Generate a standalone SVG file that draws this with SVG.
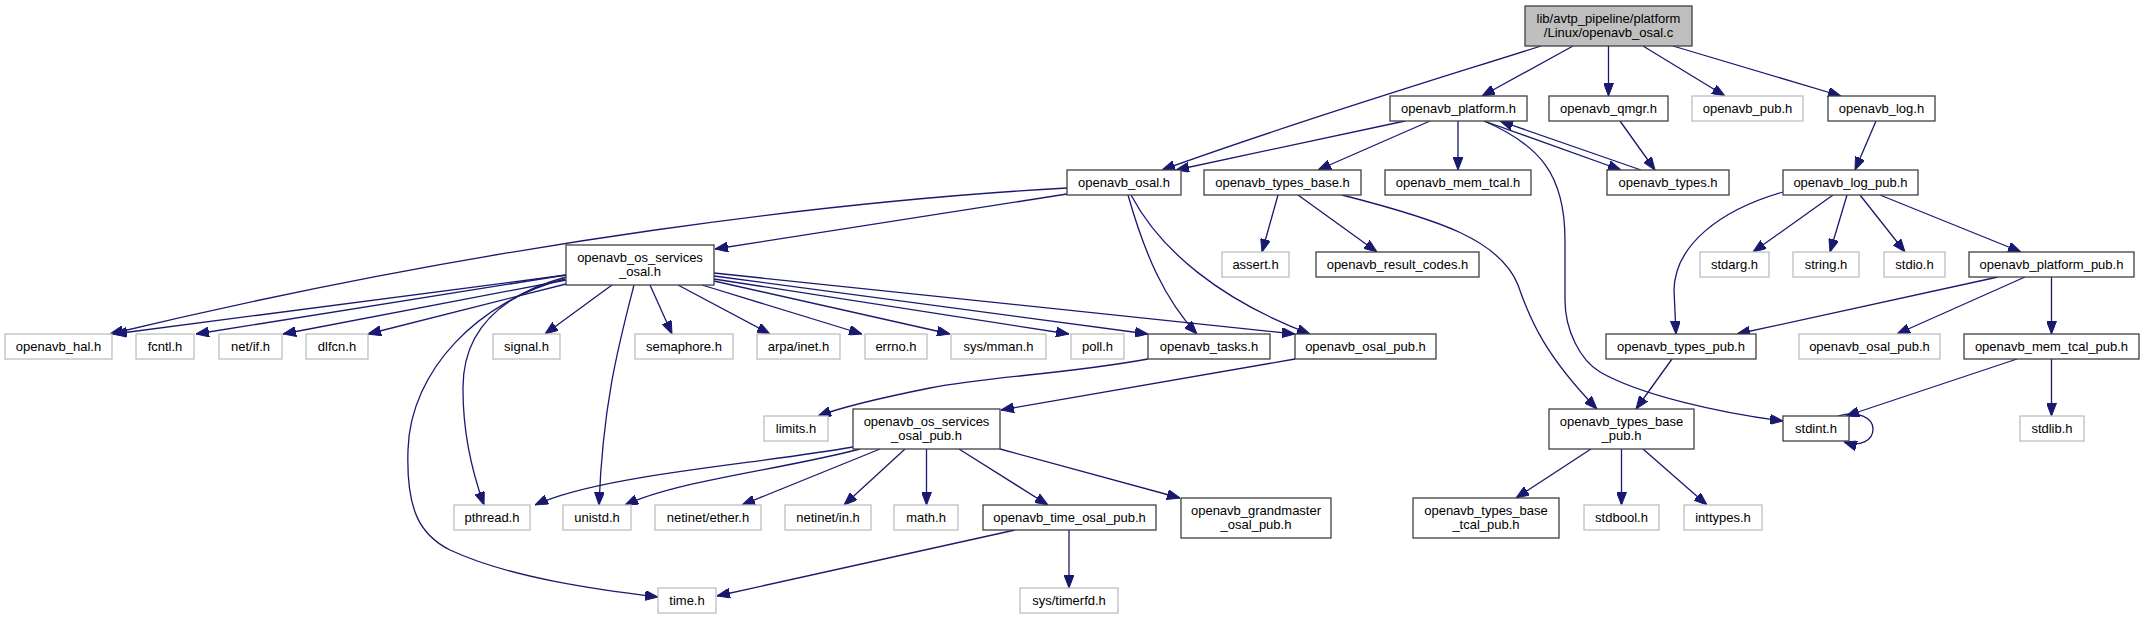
<svg xmlns="http://www.w3.org/2000/svg" width="2145" height="619" viewBox="0 0 2145 619">
<style>
.n rect{fill:#fff;stroke:#404040;stroke-width:1.3}
.g rect{fill:#fff;stroke:#bfbfbf;stroke-width:1.3}
.r rect{fill:#bfbfbf;stroke:#404040;stroke-width:1.3}
text{font-family:"Liberation Sans",Arial,Helvetica,sans-serif;font-size:13px;text-anchor:middle;fill:#000}
#edges path{fill:none;stroke:#191970;stroke-width:1.3;marker-end:url(#a)}
</style>
<defs>
<marker id="a" markerUnits="userSpaceOnUse" markerWidth="13" markerHeight="10" refX="13" refY="5" orient="auto">
<path d="M0,0 L13,5 L0,10 z" fill="#191970" stroke="#191970" stroke-width="1"/>
</marker>
</defs>
<rect width="2145" height="619" fill="#fff"/>
<g id="edges">
<path d="M1541,46 C1450,75 1300,120 1162,170"/>
<path d="M1573,46 L1482,96"/>
<path d="M1608.5,46 L1608.5,96"/>
<path d="M1643,46 L1725,96"/>
<path d="M1673,46 L1841,96"/>
<path d="M1405,121 L1176,170"/>
<path d="M1430,121 L1318,170"/>
<path d="M1458,121 L1458,170"/>
<path d="M1484,121 L1621,170"/>
<path d="M1641,170 L1500,121"/>
<path d="M1484,121 C1540,145 1565,175 1565,240 L1565,300 C1565,330 1580,360 1600,372 C1640,395 1720,413 1783,421"/>
<path d="M1620,121 L1655,170"/>
<path d="M1876,121 L1855,170"/>
<path d="M1067,188 C850,200 500,240 110,334"/>
<path d="M1067,194 L715,249"/>
<path d="M1128,195 C1145,255 1165,300 1197,334"/>
<path d="M1131,195 C1160,250 1220,300 1310,334"/>
<path d="M1278,195 L1262,252"/>
<path d="M1298,195 L1377,252"/>
<path d="M1342,195 C1440,220 1500,240 1518,285 C1530,320 1545,355 1597,409"/>
<path d="M1783,192 C1720,210 1675,245 1674,290 L1676,334"/>
<path d="M1833,195 L1753,252"/>
<path d="M1847,195 L1830,252"/>
<path d="M1860,195 L1905,252"/>
<path d="M1880,195 L2021,252"/>
<path d="M1998,277 L1737,334"/>
<path d="M2025,277 L1897,334"/>
<path d="M2051.5,277 L2051.5,334"/>
<path d="M2017,359 L1846,416"/>
<path d="M1838,416 C1858,410 1873,418 1873,429 C1873,441 1860,447 1844,442"/>
<path d="M2051.5,359 L2051.5,416"/>
<path d="M1672,359 L1636,409"/>
<path d="M1591,449 L1516,498"/>
<path d="M1621.5,449 L1621.5,505"/>
<path d="M1643,449 L1707,505"/>
<path d="M566,275 L114,334"/>
<path d="M566,275 L196,334"/>
<path d="M566,280 L283,334"/>
<path d="M566,284 L368,334"/>
<path d="M612,285 L545,334"/>
<path d="M650,285 L672,334"/>
<path d="M678,285 L770,334"/>
<path d="M702,285 L862,334"/>
<path d="M714,281 L950,334"/>
<path d="M714,279 L1069,334"/>
<path d="M714,276 L1148,334"/>
<path d="M714,273 L1295,334"/>
<path d="M566,277 C500,295 462,330 463,390 C463,440 475,480 484,505"/>
<path d="M565,279 C480,300 410,370 408,450 C406,510 420,535 450,550 C510,578 600,590 658,597"/>
<path d="M634,285 C620,340 603,400 599,505"/>
<path d="M1148,359 C1060,375 990,376 930,388 C880,398 845,406 818,416"/>
<path d="M1295,359 L1001,410"/>
<path d="M853,447 C750,465 600,475 535,505"/>
<path d="M860,449 C780,470 680,480 625,505"/>
<path d="M880,449 L742,505"/>
<path d="M905,449 L844,505"/>
<path d="M926.5,449 L926.5,505"/>
<path d="M959,449 L1048,505"/>
<path d="M1000,449 L1180,498"/>
<path d="M1015,530 L717,596"/>
<path d="M1069,530 L1069,588"/>
</g>
<g id="root" class="r"><rect x="1525" y="6" width="167" height="40"/><text x="1608.5" y="22.5">lib/avtp_pipeline/platform</text><text x="1608.5" y="37">/Linux/openavb_osal.c</text></g>
<g id="platform" class="n"><rect x="1390" y="96" width="137" height="25"/><text x="1458.5" y="113">openavb_platform.h</text></g>
<g id="qmgr" class="n"><rect x="1549" y="96" width="119" height="25"/><text x="1608.5" y="113">openavb_qmgr.h</text></g>
<g id="pub" class="g"><rect x="1692" y="96" width="111" height="25"/><text x="1747.5" y="113">openavb_pub.h</text></g>
<g id="log" class="n"><rect x="1828" y="96" width="107" height="25"/><text x="1881.5" y="113">openavb_log.h</text></g>
<g id="osal" class="n"><rect x="1067" y="170" width="114" height="25"/><text x="1124" y="187">openavb_osal.h</text></g>
<g id="types_base" class="n"><rect x="1204" y="170" width="157" height="25"/><text x="1282.5" y="187">openavb_types_base.h</text></g>
<g id="mem_tcal" class="n"><rect x="1385" y="170" width="146" height="25"/><text x="1458" y="187">openavb_mem_tcal.h</text></g>
<g id="types" class="n"><rect x="1607" y="170" width="122" height="25"/><text x="1668" y="187">openavb_types.h</text></g>
<g id="log_pub" class="n"><rect x="1783" y="170" width="135" height="25"/><text x="1850.5" y="187">openavb_log_pub.h</text></g>
<g id="os_services_osal" class="n"><rect x="566" y="245" width="148" height="40"/><text x="640" y="261.5">openavb_os_services</text><text x="640" y="275.5">_osal.h</text></g>
<g id="assert" class="g"><rect x="1222" y="252" width="67" height="25"/><text x="1255.5" y="269">assert.h</text></g>
<g id="result_codes" class="n"><rect x="1316" y="252" width="163" height="25"/><text x="1397.5" y="269">openavb_result_codes.h</text></g>
<g id="stdarg" class="g"><rect x="1700" y="252" width="69" height="25"/><text x="1734.5" y="269">stdarg.h</text></g>
<g id="string" class="g"><rect x="1793" y="252" width="66" height="25"/><text x="1826" y="269">string.h</text></g>
<g id="stdio" class="g"><rect x="1884" y="252" width="61" height="25"/><text x="1914.5" y="269">stdio.h</text></g>
<g id="platform_pub" class="n"><rect x="1969" y="252" width="165" height="25"/><text x="2051.5" y="269">openavb_platform_pub.h</text></g>
<g id="hal" class="g"><rect x="5" y="334" width="107" height="25"/><text x="58.5" y="351">openavb_hal.h</text></g>
<g id="fcntl" class="g"><rect x="136" y="334" width="58" height="25"/><text x="165" y="351">fcntl.h</text></g>
<g id="netif" class="g"><rect x="219" y="334" width="63" height="25"/><text x="250.5" y="351">net/if.h</text></g>
<g id="dlfcn" class="g"><rect x="306" y="334" width="62" height="25"/><text x="337" y="351">dlfcn.h</text></g>
<g id="signal" class="g"><rect x="493" y="334" width="67" height="25"/><text x="526.5" y="351">signal.h</text></g>
<g id="semaphore" class="g"><rect x="635" y="334" width="98" height="25"/><text x="684" y="351">semaphore.h</text></g>
<g id="arpa" class="g"><rect x="757" y="334" width="83" height="25"/><text x="798.5" y="351">arpa/inet.h</text></g>
<g id="errno" class="g"><rect x="865" y="334" width="62" height="25"/><text x="896" y="351">errno.h</text></g>
<g id="mman" class="g"><rect x="951" y="334" width="95" height="25"/><text x="998.5" y="351">sys/mman.h</text></g>
<g id="poll" class="g"><rect x="1071" y="334" width="53" height="25"/><text x="1097.5" y="351">poll.h</text></g>
<g id="tasks" class="n"><rect x="1148" y="334" width="122" height="25"/><text x="1209" y="351">openavb_tasks.h</text></g>
<g id="osal_pub" class="n"><rect x="1295" y="334" width="141" height="25"/><text x="1365.5" y="351">openavb_osal_pub.h</text></g>
<g id="types_pub" class="n"><rect x="1606" y="334" width="150" height="25"/><text x="1681" y="351">openavb_types_pub.h</text></g>
<g id="osal_pub_ext" class="g"><rect x="1799" y="334" width="141" height="25"/><text x="1869.5" y="351">openavb_osal_pub.h</text></g>
<g id="mem_tcal_pub" class="n"><rect x="1964" y="334" width="175" height="25"/><text x="2051.5" y="351">openavb_mem_tcal_pub.h</text></g>
<g id="limits" class="g"><rect x="764" y="416" width="64" height="25"/><text x="796" y="433">limits.h</text></g>
<g id="os_services_osal_pub" class="n"><rect x="853" y="409" width="147" height="40"/><text x="926.5" y="425.5">openavb_os_services</text><text x="926.5" y="439.5">_osal_pub.h</text></g>
<g id="types_base_pub" class="n"><rect x="1549" y="409" width="145" height="40"/><text x="1621.5" y="425.5">openavb_types_base</text><text x="1621.5" y="439.5">_pub.h</text></g>
<g id="stdint" class="n"><rect x="1783" y="416" width="66" height="25"/><text x="1816" y="433">stdint.h</text></g>
<g id="stdlib" class="g"><rect x="2020" y="416" width="64" height="25"/><text x="2052" y="433">stdlib.h</text></g>
<g id="pthread" class="g"><rect x="454" y="505" width="76" height="25"/><text x="492" y="522">pthread.h</text></g>
<g id="unistd" class="g"><rect x="563" y="505" width="68" height="25"/><text x="597" y="522">unistd.h</text></g>
<g id="ether" class="g"><rect x="655" y="505" width="106" height="25"/><text x="708" y="522">netinet/ether.h</text></g>
<g id="netin" class="g"><rect x="785" y="505" width="86" height="25"/><text x="828" y="522">netinet/in.h</text></g>
<g id="math" class="g"><rect x="894" y="505" width="64" height="25"/><text x="926" y="522">math.h</text></g>
<g id="time_osal_pub" class="n"><rect x="983" y="505" width="173" height="25"/><text x="1069.5" y="522">openavb_time_osal_pub.h</text></g>
<g id="grandmaster" class="n"><rect x="1181" y="498" width="150" height="40"/><text x="1256" y="514.5">openavb_grandmaster</text><text x="1256" y="528.5">_osal_pub.h</text></g>
<g id="types_base_tcal_pub" class="n"><rect x="1413" y="498" width="146" height="40"/><text x="1486" y="514.5">openavb_types_base</text><text x="1486" y="528.5">_tcal_pub.h</text></g>
<g id="stdbool" class="g"><rect x="1584" y="505" width="75" height="25"/><text x="1621.5" y="522">stdbool.h</text></g>
<g id="inttypes" class="g"><rect x="1684" y="505" width="78" height="25"/><text x="1723" y="522">inttypes.h</text></g>
<g id="time" class="g"><rect x="658" y="588" width="58" height="25"/><text x="687" y="605">time.h</text></g>
<g id="timerfd" class="g"><rect x="1020" y="588" width="98" height="25"/><text x="1069" y="605">sys/timerfd.h</text></g>
</svg>
